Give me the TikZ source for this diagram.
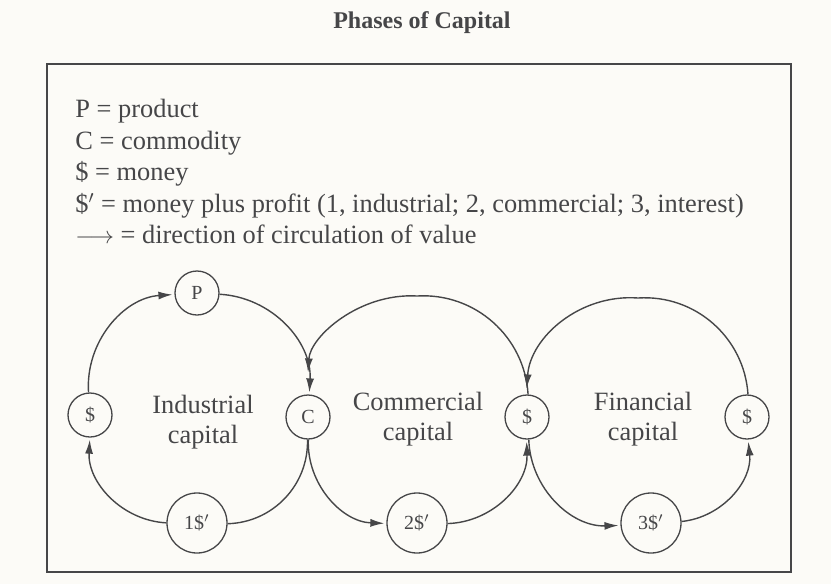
\documentclass[tikz,border=0pt]{standalone}
\usepackage{fontspec}
\setmainfont{Liberation Serif}
\usetikzlibrary{arrows.meta,positioning}
\definecolor{paper}{RGB}{252,251,247}
\definecolor{ink}{RGB}{70,70,72}

\begin{document}
\begin{tikzpicture}[x=0.5pt, y=0.5pt,
  every node/.style={text=ink},
  phase/.style={circle, draw=ink, line width=0.65pt, inner sep=0pt, minimum size=22pt, font=\fontsize{10}{12}\selectfont},
  profit/.style={phase, minimum size=30pt},
  flow/.style={draw=ink, line width=0.7pt, -{Latex[length=7pt,width=4pt]}, shorten >=1pt},
  link/.style={draw=ink, line width=0.7pt},
  legend/.style={anchor=base west, inner sep=0pt, font=\fontsize{13.2}{15}\selectfont},
  kind/.style={align=center, font=\fontsize{13.2}{15}\selectfont}]
\fill[paper] (0,0) rectangle (831,-584);
\node[anchor=base, font=\bfseries\fontsize{12}{14}\selectfont] (title) at (422,-28) {Phases of Capital};
\draw[ink, line width=1pt] (47,-64) rectangle (791,-572);
% key
\node[legend] (keyP) at (75,-117) {P = product};
\node[legend] (keyC) at (75,-149) {C = commodity};
\node[legend] (keyM) at (75,-180) {\$ = money};
\node[legend] (keyMp) at (75,-212) {\$$'$ = money plus profit (1, industrial; 2, commercial; 3, interest)};
\node[legend] (keyArr) at (75,-243) {$\longrightarrow$ = direction of circulation of value};
% phases
\node[phase] (prod) at (197,-293) {P};
\node[phase] (mon1) at (90,-415) {\$};
\node[phase] (comm) at (308,-417) {C};
\node[profit] (prof1) at (197,-523) {1\$$'$};
\node[phase] (mon2) at (527,-417) {\$};
\node[profit] (prof2) at (417,-523) {2\$$'$};
\node[profit] (prof3) at (651,-523) {3\$$'$};
\node[phase] (mon3) at (747,-417) {\$};
\node[kind] (ind) at (203,-422) {Industrial\\capital};
\node[kind] (com) at (418,-419) {Commercial\\capital};
\node[kind] (fin) at (643,-419) {Financial\\capital};
\coordinate (comTop) at (417,-296);
\coordinate (finTop) at (638,-298);
% circulation
\draw[flow] (mon1) to[bend left=45] (prod);
\draw[flow] (prod) to[bend left=45] (comm);
\draw[link] (comm) to[bend left=45] (prof1);
\draw[flow] (prof1) to[bend left=45] (mon1);
\draw[flow] (comm) to[bend right=45] (prof2);
\draw[flow] (prof2) to[bend right=45] (mon2);
\draw[flow, shorten >=11pt] (mon2) to[bend right=45] (comTop) to[bend right=45] (comm);
\draw[flow] (mon2) to[bend right=45] (prof3);
\draw[flow] (prof3) to[bend right=45] (mon3);
\draw[flow, shorten >=3pt] (mon3) to[bend right=45] (finTop) to[bend right=45] (mon2);
\end{tikzpicture}
\end{document}
